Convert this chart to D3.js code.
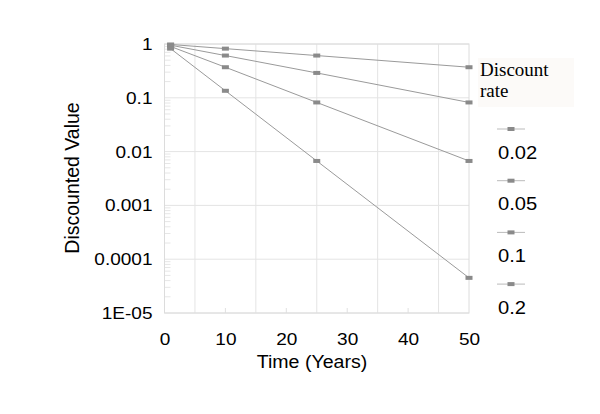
<!DOCTYPE html>
<html><head><meta charset="utf-8">
<script src="https://cdn.jsdelivr.net/npm/d3@7"></script>
<style>body{margin:0;background:#fff}svg{display:block}</style>
</head><body>
<svg id="c" width="600" height="414"></svg>
<script>
const years = [1, 10, 25, 50];
const rates = ["0.02", "0.05", "0.1", "0.2"];
const values002 = [0.98, 0.82, 0.61, 0.37];
const values005 = [0.95, 0.61, 0.29, 0.082];
const values01 = [0.90, 0.37, 0.082, 0.0067];
const values02 = [0.82, 0.135, 0.0067, 0.000045];
const seriesValues = [values002, values005, values01, values02];
const xTicks = [0, 10, 20, 30, 40, 50];
const xGrid = [5, 15, 25, 35, 45];
const yTicks = [1, 0.1, 0.01, 0.001, 0.0001, 0.00001];
const yTickLabels = ["1", "0.1", "0.01", "0.001", "0.0001", "1E-05"];

const svg = d3.select("#c");
const L = 164.5, R = 469, T = 44, B = 313;
const x = d3.scaleLinear().domain([0, 50]).range([L, R]);
const y = d3.scaleLog().domain([1e-5, 1]).range([B, T]);
const sans = "'Liberation Sans', Arial, sans-serif";
const serif = "'Liberation Serif', 'Times New Roman', serif";
const SX = 1.12;

// grid
const g = svg.append("g");
g.selectAll("line.vg").data(xGrid).join("line")
  .attr("x1", d => x(d)).attr("x2", d => x(d)).attr("y1", T).attr("y2", B)
  .attr("stroke", "#e4e4e4").attr("stroke-width", 1);
g.selectAll("line.hg").data(yTicks).join("line")
  .attr("x1", L).attr("x2", R).attr("y1", d => y(d)).attr("y2", d => y(d))
  .attr("stroke", "#e4e4e4").attr("stroke-width", 1);
const minor = [];
for (let e = -5; e < 0; e++) for (let m = 2; m <= 9; m++) minor.push(m * Math.pow(10, e));
g.selectAll("line.mt").data(minor).join("line")
  .attr("x1", L).attr("x2", L + 6).attr("y1", d => y(d)).attr("y2", d => y(d))
  .attr("stroke", "#e6e6e6").attr("stroke-width", 1);
g.selectAll("line.xt").data(xTicks.slice(1, 5)).join("line")
  .attr("x1", d => x(d)).attr("x2", d => x(d)).attr("y1", B).attr("y2", B - 5)
  .attr("stroke", "#e0e0e0");
g.append("rect").attr("x", L).attr("y", T).attr("width", R - L).attr("height", B - T)
  .attr("fill", "none").attr("stroke", "#dcdcdc").attr("stroke-width", 1);

const xAxis = svg.append("g").attr("transform", `translate(0,${B})`)
  .call(d3.axisBottom(x).tickValues(xTicks).tickSize(0).tickPadding(20).tickFormat(d3.format("d")));
xAxis.select(".domain").remove();
xAxis.selectAll("text").attr("font-family", sans).attr("font-size", 17).attr("fill", "#000")
  .attr("transform", `scale(${SX},1)`);

const yAxis = svg.append("g").attr("transform", `translate(${L},0)`)
  .call(d3.axisLeft(y).tickValues(yTicks).tickSize(0).tickPadding(12)
    .tickFormat((d, i) => yTickLabels[i]));
yAxis.select(".domain").remove();
yAxis.selectAll("text").attr("font-family", sans).attr("font-size", 17).attr("fill", "#000")
  .attr("x", -12 / SX).attr("transform", `scale(${SX},1)`);

svg.append("text").attr("transform", `translate(312,368) scale(${SX},1)`).attr("text-anchor", "middle")
  .attr("font-family", sans).attr("font-size", 17.5).text("Time (Years)");
svg.append("text").attr("transform", "translate(79,178) rotate(-90)").attr("text-anchor", "middle")
  .attr("font-family", sans).attr("font-size", 19.5).text("Discounted Value");

const line = d3.line().x((d, i) => x(years[i])).y(d => y(d));
seriesValues.forEach(vals => {
  svg.append("path").datum(vals).attr("d", line)
    .attr("fill", "none").attr("stroke", "#9a9a9a").attr("stroke-width", 1);
  svg.selectAll(null).data(vals).join("rect")
    .attr("x", (d, i) => x(years[i]) - 3.5).attr("y", d => y(d) - 2)
    .attr("width", 7).attr("height", 4).attr("fill", "#8a8a8a");
});

svg.append("rect").attr("x", 478).attr("y", 58).attr("width", 96).attr("height", 49).attr("fill", "#fcfaf8");
svg.append("text").attr("x", 480).attr("y", 76).attr("font-family", serif)
  .attr("font-size", 19).text("Discount");
svg.append("text").attr("x", 480).attr("y", 97).attr("font-family", serif)
  .attr("font-size", 19).text("rate");
const lg = svg.selectAll("g.lg").data(rates).join("g").attr("transform", (d, i) => `translate(0,${129 + i * 51.7})`);
lg.append("line").attr("x1", 497).attr("x2", 525).attr("y1", 0).attr("y2", 0).attr("stroke", "#bbb");
lg.append("rect").attr("x", 507.5).attr("y", -2).attr("width", 7).attr("height", 4).attr("fill", "#8a8a8a");
lg.append("text").attr("transform", `translate(498,29.5) scale(${SX},1)`)
  .attr("font-family", sans).attr("font-size", 18).text(d => d);
</script>
</body></html>
